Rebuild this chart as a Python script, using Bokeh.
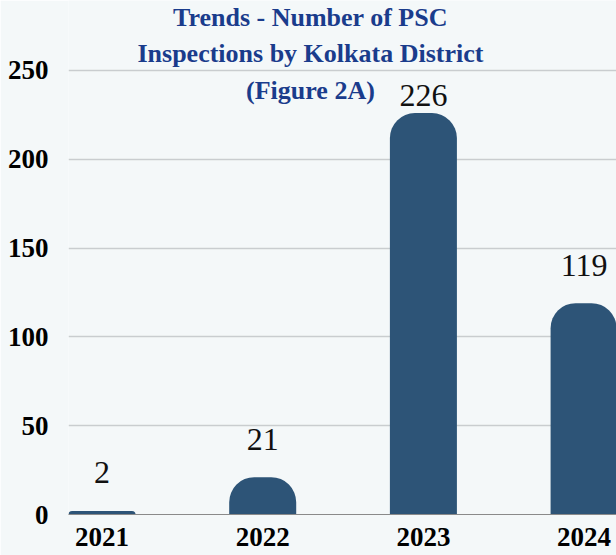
from bokeh.plotting import figure
from bokeh.models import Range1d, FixedTicker, Label, ColumnDataSource
from bokeh.core.properties import value
from bokeh.embed import file_html
from bokeh.resources import INLINE

years = ["2021", "2022", "2023", "2024"]
inspections = [2, 21, 226, 119]
y_ticks = [0, 50, 100, 150, 200, 250]
title_lines = ["Trends - Number of PSC", "Inspections by Kolkata District", "(Figure 2A)"]

BAR = "#2d5477"
BG = "#f4f8f9"
FONT = "Liberation Serif"

xs = list(range(len(years)))
# labels sit above each bar, clamped so they stay inside the chart area
label_y = [min(v + 21.4, 235.9) for v in inspections]
src = ColumnDataSource(dict(x=xs, top=inspections, ly=label_y,
                            txt=[str(v) for v in inspections]))

p = figure(width=616, height=555, output_backend="svg", toolbar_location=None,
           x_range=Range1d(-0.2085, 3.2016), y_range=Range1d(0, 289.4),
           min_border_left=68, min_border_right=0, min_border_top=0,
           min_border_bottom=41)
p.background_fill_color = BG
p.border_fill_color = BG
p.outline_line_color = None

p.vbar(x="x", top="top", width=0.417, bottom=0, source=src, fill_color=BAR,
       line_color=None, border_radius=(25, 25, 0, 0))
p.text(x="x", y="ly", text="txt", source=src, text_align="center",
       text_baseline="alphabetic", text_font=value(FONT), text_font_size="32px",
       text_color="#111111")

p.xgrid.visible = False
p.ygrid.grid_line_color = "#c9cdcf"
p.ygrid.grid_line_width = 1.5
p.yaxis.ticker = FixedTicker(ticks=y_ticks)
p.xaxis.ticker = FixedTicker(ticks=xs)
p.xaxis.major_label_overrides = {i: y for i, y in enumerate(years)}

for ax in (p.xaxis[0], p.yaxis[0]):
    ax.major_tick_line_color = None
    ax.minor_tick_line_color = None
    ax.major_label_text_font = FONT
    ax.major_label_text_font_style = "bold"
    ax.major_label_text_font_size = "27px"
    ax.major_label_text_color = "#000000"
p.yaxis.axis_line_color = None
p.yaxis.major_label_standoff = 14
p.xaxis.axis_line_color = "#8a8a8a"
p.xaxis.axis_line_width = 1
p.xaxis.major_label_standoff = 7

title_y = [279.8, 259.6, 238.7]
for line, ty in zip(title_lines, title_y):
    p.add_layout(Label(x=1.297, y=ty, text=line, text_align="center",
                       text_baseline="alphabetic", text_font=FONT,
                       text_font_style="bold", text_font_size="26px",
                       text_color="#1a3c8c"))

open("out.html", "w").write(file_html(p, INLINE))
